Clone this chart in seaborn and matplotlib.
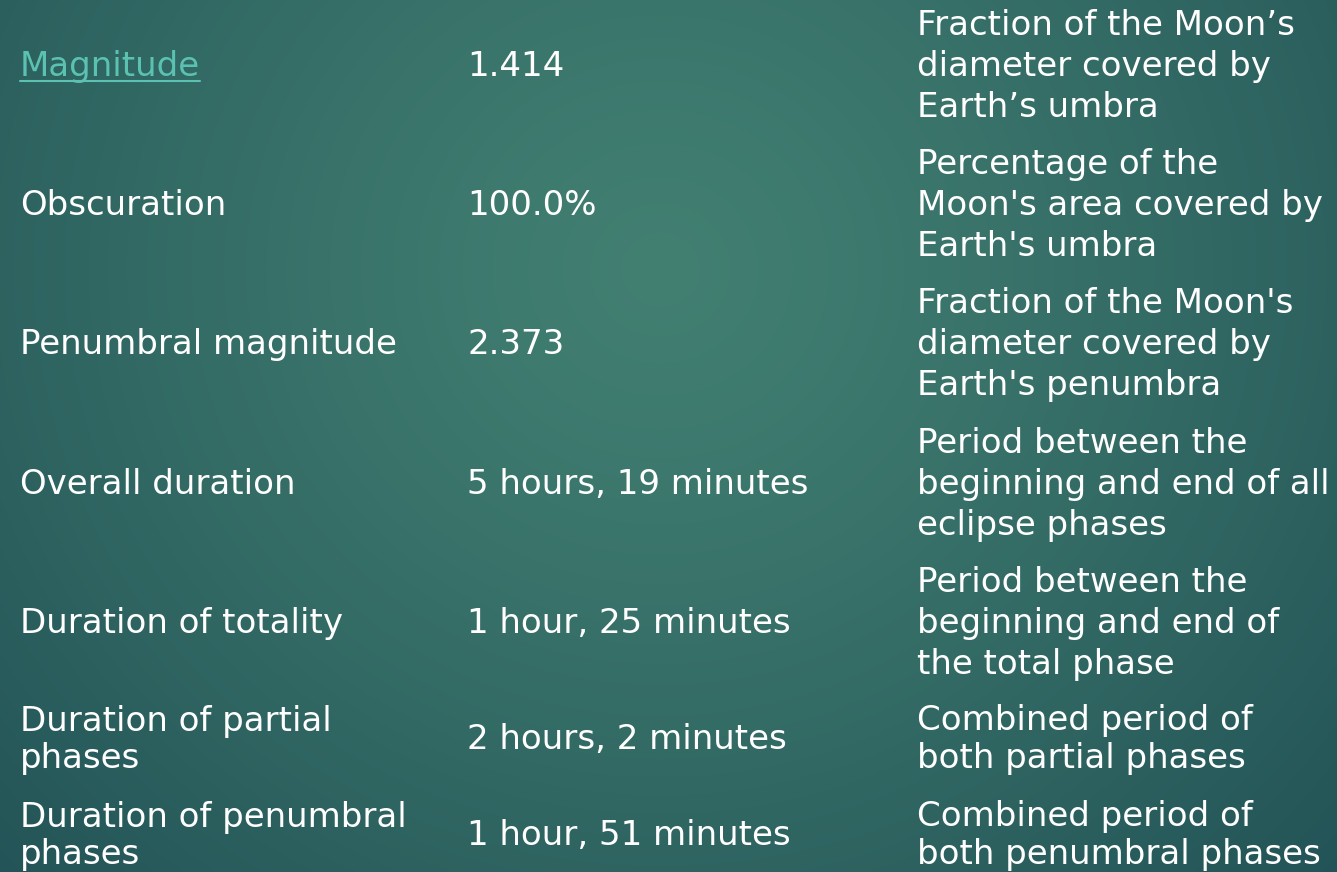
import numpy as np
import matplotlib
matplotlib.use("Agg")
import matplotlib.pyplot as plt
import seaborn as sns

# ================= DADOS =================
parametros = [
    "Magnitude",
    "Obscuration",
    "Penumbral magnitude",
    "Overall duration",
    "Duration of totality",
    "Duration of partial\nphases",
    "Duration of penumbral\nphases",
]
valores = [
    "1.414",
    "100.0%",
    "2.373",
    "5 hours, 19 minutes",
    "1 hour, 25 minutes",
    "2 hours, 2 minutes",
    "1 hour, 51 minutes",
]
descricoes = [
    "Fraction of the Moon\u2019s\ndiameter covered by\nEarth\u2019s umbra",
    "Percentage of the\nMoon's area covered by\nEarth's umbra",
    "Fraction of the Moon's\ndiameter covered by\nEarth's penumbra",
    "Period between the\nbeginning and end of all\neclipse phases",
    "Period between the\nbeginning and end of\nthe total phase",
    "Combined period of\nboth partial phases",
    "Combined period of\nboth penumbral phases",
]
linhas_com_link = [0]

# ================= LAYOUT =================
W, H = 1337, 872
COL_X = [20, 467, 917]
BASE_Y = [76, 215, 354, 494, 633, 749, 845]  # linha de base central de cada linha da tabela
FONT_PT = 24.5
COR_TEXTO = "#ffffff"
COR_LINK = "#5bc2b2"

sns.set_theme(style="white")
plt.rcParams['font.family'] = ['DejaVu Sans']

fig = plt.figure(figsize=(W / 100, H / 100), dpi=100)
ax = fig.add_axes([0, 0, 1, 1])
ax.set_xlim(0, W)
ax.set_ylim(H, 0)
ax.axis("off")

# fundo com gradiente radial (teal)
yy, xx = np.mgrid[0:H, 0:W]
d = np.sqrt(((xx - 660) / 1.0) ** 2 + ((yy - 270) / 0.95) ** 2)
t = np.clip(d / 950, 0, 1) ** 1.2
centro = np.array([66, 128, 114]) / 255
borda = np.array([34, 82, 86]) / 255
img = centro[None, None, :] * (1 - t[..., None]) + borda[None, None, :] * t[..., None]
ax.imshow(img, extent=[0, W, H, 0], aspect="auto", zorder=0)


def escrever(x, y_base, texto, espac, cor):
    linhas = texto.split("\n")
    n = len(linhas)
    objs = []
    for k, ln in enumerate(linhas):
        y = y_base + (k - (n - 1) / 2) * espac
        objs.append(ax.text(x, y, ln, fontsize=FONT_PT, color=cor,
                            ha="left", va="baseline", zorder=2))
    return objs


for i in range(len(parametros)):
    yb = BASE_Y[i]
    cor1 = COR_LINK if i in linhas_com_link else COR_TEXTO
    objs = escrever(COL_X[0], yb, parametros[i], 37, cor1)
    escrever(COL_X[1], yb, valores[i], 37, COR_TEXTO)
    n3 = len(descricoes[i].split("\n"))
    escrever(COL_X[2], yb, descricoes[i], 41 if n3 == 3 else 38, COR_TEXTO)

    if i in linhas_com_link:
        fig.canvas.draw()
        bb = objs[0].get_window_extent()
        inv = ax.transData.inverted()
        x0, _ = inv.transform((bb.x0, bb.y0))
        x1, _ = inv.transform((bb.x1, bb.y0))
        ax.plot([x0, x1], [yb + 5, yb + 5], color=COR_LINK, lw=1.5, zorder=2)

fig.savefig("out.png", dpi=100)
